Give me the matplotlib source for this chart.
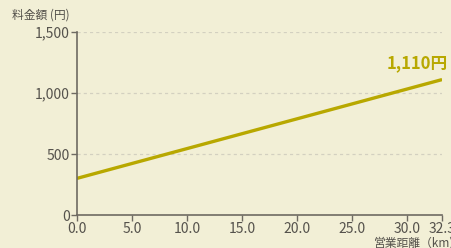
import matplotlib
matplotlib.use("Agg")
import matplotlib.pyplot as plt
import numpy as np

# fare vs distance
distance_km = [0.0, 32.3]
fare_yen = [300, 1110]
x_ticks = [0.0, 5.0, 10.0, 15.0, 20.0, 25.0, 30.0, 32.3]
y_ticks = [0, 500, 1000, 1500]

plt.rcParams["font.family"] = ["Noto Sans CJK JP", "DejaVu Sans"]

bg = "#f2efd6"
line_color = "#b8a800"
axis_color = "#6e6a62"
text_color = "#55524c"

# the last segment (30.0 -> 32.3) is stretched on the original axis
def fwd(x):
    x = np.asarray(x, dtype=float)
    return np.where(x <= 30, x, 30 + (x - 30) * (3.2 / 2.3))

def inv(x):
    x = np.asarray(x, dtype=float)
    return np.where(x <= 30, x, 30 + (x - 30) * (2.3 / 3.2))

fig = plt.figure(figsize=(4.52, 2.48), dpi=100, facecolor=bg)
ax = fig.add_axes([0.170, 0.133, 0.808, 0.738], facecolor=bg)
ax.set_xscale("function", functions=(fwd, inv))

ax.plot(distance_km, fare_yen, color=line_color, linewidth=2.4, solid_capstyle="butt")

ax.set_xlim(0, 32.3)
ax.set_ylim(0, 1500)
ax.set_xticks(x_ticks)
ax.set_xticklabels([f"{v:.1f}" for v in x_ticks])
ax.xaxis.set_minor_locator(plt.NullLocator())
ax.set_yticks(y_ticks)
ax.set_yticklabels([f"{v:,}" for v in y_ticks])

for y in y_ticks[1:]:
    ax.axhline(y, color="#d3d0c0", linewidth=0.9, linestyle=(0, (2.5, 2.5)), zorder=0)

for s in ["top", "right"]:
    ax.spines[s].set_visible(False)
for s in ["left", "bottom"]:
    ax.spines[s].set_color(axis_color)
    ax.spines[s].set_linewidth(1.2)

ax.tick_params(colors=axis_color, labelcolor=text_color, labelsize=10, length=4, width=1.0, pad=1)

fig.text(0.923, 0.745, f"{fare_yen[-1]:,}円", color=line_color,
         fontsize=12, fontweight="bold", ha="center", va="center")

fig.text(0.026, 0.94, "料金額 (円)", color=text_color, fontsize=8.5, ha="left", va="center")
fig.text(0.828, 0.022, "営業距離（km)", color=text_color, fontsize=8.5, ha="left", va="center")

fig.savefig("out.png", dpi=100, facecolor=bg)
